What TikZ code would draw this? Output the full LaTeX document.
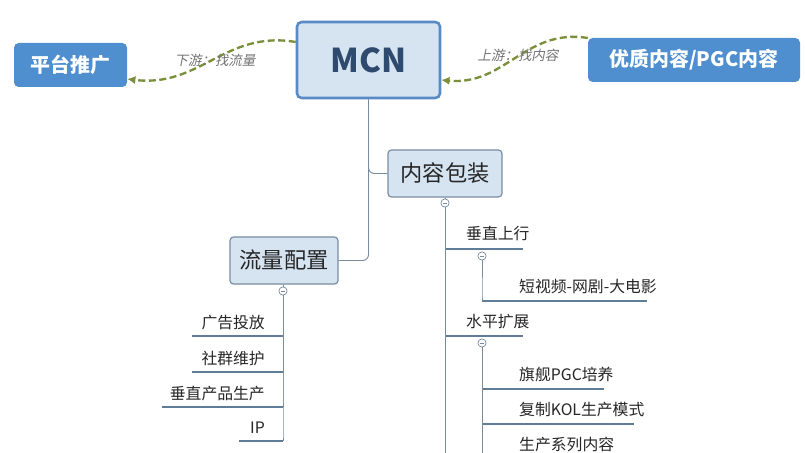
\documentclass[tikz,border=0pt]{standalone}
\usepackage{fontspec}
\setmainfont{Noto Sans CJK SC}
\newfontfamily\slantfont[FakeSlant=0.2]{Noto Sans CJK SC}
\usetikzlibrary{positioning,arrows.meta}
\definecolor{boxfill}{RGB}{214,228,242}
\definecolor{boxdraw}{RGB}{90,138,198}
\definecolor{darkblue}{RGB}{46,74,110}
\definecolor{solidblue}{RGB}{79,143,208}
\definecolor{olive}{RGB}{122,143,58}
\definecolor{treeline}{RGB}{120,140,160}
\definecolor{uline}{RGB}{95,125,150}
\begin{document}
\begin{tikzpicture}[x=0.03cm,y=-0.03cm]

	%DEFINICIONES
	\tikzstyle{every node}=[inner sep=0pt]
	\tikzstyle{root} = [draw=boxdraw, line width=2.2pt, rounded corners=4pt, fill=boxfill, font=\bfseries\fontsize{28}{28}\selectfont, text=darkblue]
	\tikzstyle{ext} = [fill=solidblue, rounded corners=4pt, text=white, font=\bfseries\fontsize{17}{17}\selectfont]
	\tikzstyle{topic} = [draw=treeline, line width=1pt, rounded corners=3pt, fill=boxfill, font=\fontsize{19}{19}\selectfont, text=black!85]
	\tikzstyle{item} = [font=\fontsize{13.5}{13.5}\selectfont, text=black!85]
	\tikzstyle{nota} = [font=\slantfont\fontsize{11.5}{11.5}\selectfont, text=black!55]
	\tikzstyle{flecha} = [-{Latex[length=7pt,width=7pt]}, olive, dashed, dash pattern=on 6pt off 3pt, line width=2pt]
	\tikzstyle{rama} = [treeline, line width=0.8pt, rounded corners=5pt]
	\tikzstyle{linea} = [uline, line width=2pt]
	\tikzstyle{plegar} = [circle, draw=treeline, fill=white, minimum size=7pt, line width=0.6pt, path picture={\draw[treeline, line width=0.6pt] ([xshift=-1.8pt]path picture bounding box.center) -- ([xshift=1.8pt]path picture bounding box.center);}]

	\useasboundingbox (0,0) rectangle (805,453);

	%BLOQUES
	\node[root, minimum width=143*0.03cm, minimum height=76*0.03cm] (mcn) at (368.5,60) {MCN};
	\node[ext, minimum width=113*0.03cm, minimum height=44*0.03cm] (plataforma) at (70.5,65) {平台推广};
	\node[ext, minimum width=212*0.03cm, minimum height=44*0.03cm] (pgc) at (694,60) {优质内容/PGC内容};
	\node[topic, minimum width=114*0.03cm, minimum height=47*0.03cm] (envase) at (445,173.5) {内容包装};
	\node[topic, minimum width=108*0.03cm, minimum height=47*0.03cm] (trafico) at (284,260.5) {流量配置};

	%FLECHAS
	\draw[flecha] (mcn.west |- 0,42) .. controls (225,30) and (200,88) .. (plataforma.east |- 0,79);
	\draw[flecha] (pgc.west |- 0,38) .. controls (525,28) and (505,86) .. (mcn.east |- 0,80);
	\node[nota] (abajo) at (215,60) {下游：找流量};
	\node[nota] (arriba) at (518,55) {上游：找内容};

	\draw[rama] (mcn.south) |- (envase.west);
	\draw[rama] (mcn.south) |- (trafico.east);

	%RAMAS
	\node[plegar] (p1) at (283,291) {};
	\node[plegar] (p2) at (445,203) {};
	\node[plegar] (p3) at (482,256) {};
	\node[plegar] (p4) at (482,343) {};
	\draw[rama] (trafico.south -| p1) -- (p1.north);
	\draw[rama] (envase.south) -- (p2.north);

	% flujo
	\foreach \t/\y/\xa/\n in {广告投放/336/192/a1, 社群维护/372/192/a2, 垂直产品生产/407/162/a3, IP/441/239/a4}{
		\coordinate (\n) at (283,\y);
		\draw[linea] (\xa,\y) -- (\n);
		\node[item, anchor=base east] (t\n) at (265,\y-8) {\t};
		\draw[rama] (p1.south) |- (\n);
	}

	% contenido
	\foreach \t/\y/\n in {垂直上行/249/b1, 水平扩展/336/b2}{
		\coordinate (\n) at (445,\y);
		\draw[linea] (\n) -- (523,\y);
		\node[item, anchor=base west] (t\n) at (466,\y-9) {\t};
		\draw[rama] (p2.south) |- (\n);
	}
	\draw[rama] (p2.south) -- (445,453);
	\foreach \t/\y/\xb/\p/\n in {短视频-网剧-大电影/301/647/p3/c1, 旗舰PGC培养/389/604/p4/c2, 复制KOL生产模式/424/634/p4/c3}{
		\coordinate (\n) at (482,\y);
		\draw[linea] (\n) -- (\xb,\y);
		\node[item, anchor=base west] (t\n) at (519,\y-9) {\t};
		\draw[rama] (\p.south) |- (\n);
	}
	\node[item, anchor=base west] (tc4) at (519,450) {生产系列内容};
	\draw[rama] (p4.south) -- (482,453);
\end{tikzpicture}
\end{document}
